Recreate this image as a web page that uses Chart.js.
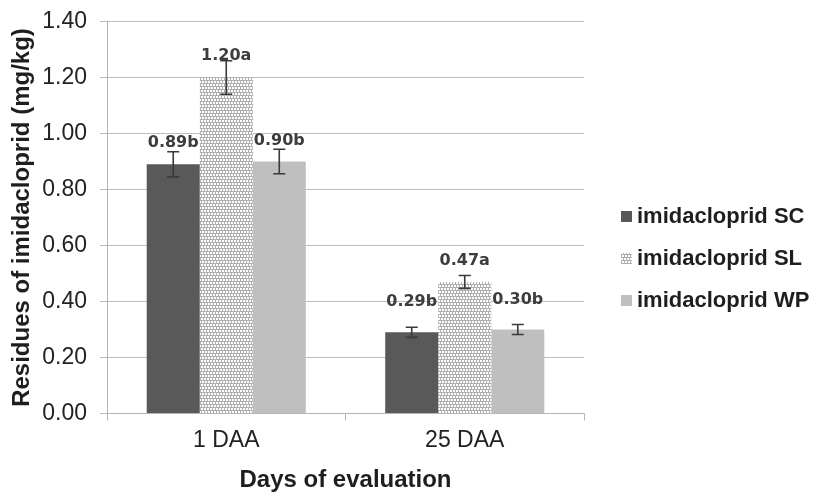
<!DOCTYPE html>
<html>
<head>
<meta charset="utf-8">
<script src="https://cdn.jsdelivr.net/npm/chart.js@4/dist/chart.umd.min.js"></script>
<style>
  html, body { margin: 0; padding: 0; background: #ffffff; }
  #wrap { width: 814px; height: 492px; position: relative; }
</style>
</head>
<body>
<div id="wrap"><canvas id="chart" width="814" height="492"></canvas></div>
<script>
// Residues of imidacloprid by formulation and days after application
const categories = ['1 DAA', '25 DAA'];
const seriesNames = ['imidacloprid SC', 'imidacloprid SL', 'imidacloprid WP'];

const scValues = [0.89, 0.29];
const slValues = [1.20, 0.47];
const wpValues = [0.90, 0.30];

const scErrors = [0.045, 0.018];
const slErrors = [0.060, 0.023];
const wpErrors = [0.044, 0.018];

const scLetters = ['b', 'b'];
const slLetters = ['a', 'a'];
const wpLetters = ['b', 'b'];

const yTicks = [0, 0.2, 0.4, 0.6, 0.8, 1.0, 1.2, 1.4];

// Dotted (brick-like) fill used for the SL series
function dottedPattern() {
  const c = document.createElement('canvas');
  c.width = 6; c.height = 6;
  const g = c.getContext('2d');
  g.fillStyle = '#aeaeae';
  g.fillRect(0, 0, 6, 6);
  g.fillStyle = '#ffffff';
  g.fillRect(0, 0, 2, 2);
  g.fillRect(3, 0, 2, 2);
  g.fillRect(1, 3, 2, 2);
  g.fillRect(4, 3, 2, 2);
  return g.createPattern(c, 'repeat');
}

const ctx = document.getElementById('chart').getContext('2d');
const slFill = dottedPattern();

const errorSets = [scErrors, slErrors, wpErrors];
const letterSets = [scLetters, slLetters, wpLetters];

// Error bars and value labels on top of the bars
const barExtras = {
  id: 'barExtras',
  afterDatasetsDraw(chart, args, opts) {
    const c = chart.ctx;
    const y = chart.scales.y;
    chart.data.datasets.forEach((ds, di) => {
      const meta = chart.getDatasetMeta(di);
      meta.data.forEach((bar, i) => {
        const v = ds.data[i];
        const e = errorSets[di][i];
        const top = y.getPixelForValue(v + e);
        const bot = y.getPixelForValue(v - e);
        c.save();
        c.strokeStyle = '#3a3a3a';
        c.lineWidth = 1.6;
        c.beginPath();
        c.moveTo(bar.x, top); c.lineTo(bar.x, bot);
        c.moveTo(bar.x - 6, top); c.lineTo(bar.x + 6, top);
        c.moveTo(bar.x - 6, bot); c.lineTo(bar.x + 6, bot);
        c.stroke();
        c.restore();
      });
    });
    chart.data.datasets.forEach((ds, di) => {
      const meta = chart.getDatasetMeta(di);
      meta.data.forEach((bar, i) => {
        const v = ds.data[i];
        c.save();
        c.font = 'bold 16px "DejaVu Sans"';
        c.fillStyle = '#3d3d3d';
        c.textAlign = 'center';
        c.textBaseline = 'middle';
        c.fillText(v.toFixed(2) + letterSets[di][i], bar.x, bar.y - opts.offsets[di][i]);
        c.restore();
      });
    });
  }
};

// Legend to the right of the plot
const sideLegend = {
  id: 'sideLegend',
  afterDraw(chart, args, opts) {
    const c = chart.ctx;
    chart.data.datasets.forEach((ds, di) => {
      const cy = opts.top + di * opts.step;
      c.save();
      c.fillStyle = ds.backgroundColor;
      c.fillRect(opts.x, cy - 5, 11, 11);
      c.font = 'bold 22px "Liberation Sans", Arial, sans-serif';
      c.fillStyle = '#1e1e1e';
      c.textAlign = 'left';
      c.textBaseline = 'middle';
      c.fillText(ds.label, opts.x + 16, cy + 1);
      c.restore();
    });
  }
};

new Chart(ctx, {
  type: 'bar',
  data: {
    labels: categories,
    datasets: [
      { label: seriesNames[0], data: scValues, backgroundColor: '#595959' },
      { label: seriesNames[1], data: slValues, backgroundColor: slFill },
      { label: seriesNames[2], data: wpValues, backgroundColor: '#bfbfbf' }
    ]
  },
  options: {
    responsive: false,
    animation: false,
    devicePixelRatio: 1,
    layout: { padding: { top: 21.5, right: 230, bottom: 0, left: 0 } },
    datasets: { bar: { categoryPercentage: 0.667, barPercentage: 1.0, borderWidth: 0 } },
    plugins: {
      legend: { display: false },
      tooltip: { enabled: false },
      barExtras: { offsets: [[21, 30], [22, 21], [21, 30]] },
      sideLegend: { x: 621, top: 216, step: 42 }
    },
    scales: {
      x: {
        afterFit(scale) { scale.height = 78.5; scale.paddingLeft = 0; scale.paddingRight = 0; },
        grid: { drawOnChartArea: false, drawTicks: true, tickLength: 7, offset: true, color: '#b5b5b5' },
        border: { color: '#b5b5b5', width: 1 },
        ticks: { color: '#222222', font: { family: '"Liberation Sans", Arial, sans-serif', size: 23 }, padding: 6 },
        title: {
          display: true,
          text: 'Days of evaluation',
          color: '#1e1e1e',
          font: { family: '"Liberation Sans", Arial, sans-serif', size: 24, weight: 'bold', lineHeight: 1.0 },
          padding: { top: 0, bottom: 0 }
        }
      },
      y: {
        min: 0,
        max: 1.4,
        afterFit(scale) { scale.width = 107; scale.paddingTop = 0; scale.paddingBottom = 0; },
        afterBuildTicks(scale) { scale.ticks = yTicks.map(v => ({ value: v })); },
        grid: { color: '#bdbdbd', tickLength: 7, drawTicks: true },
        border: { color: '#b5b5b5', width: 1 },
        ticks: {
          color: '#222222',
          font: { family: '"Liberation Sans", Arial, sans-serif', size: 23 },
          padding: 13,
          callback: v => Number(v).toFixed(2)
        },
        title: {
          display: true,
          text: 'Residues of imidacloprid (mg/kg)',
          color: '#1e1e1e',
          font: { family: '"Liberation Sans", Arial, sans-serif', size: 24, weight: 'bold', lineHeight: 1.0 },
          padding: { top: 10, bottom: 0 }
        }
      }
    }
  },
  plugins: [barExtras, sideLegend]
});
</script>
</body>
</html>
